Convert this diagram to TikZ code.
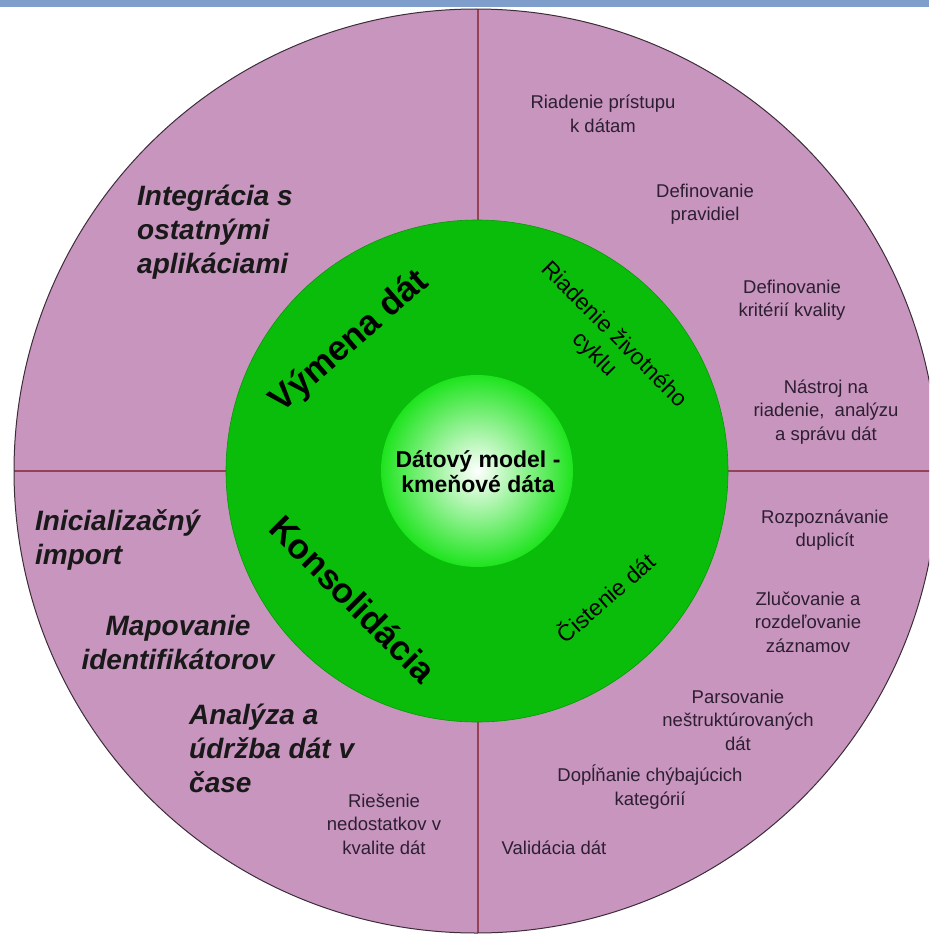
\documentclass[tikz,border=0pt]{standalone}
\usepackage{fontspec}
\setmainfont{Liberation Sans}
\usepackage{tikz}
\usetikzlibrary{positioning}
\definecolor{ringpink}{RGB}{199,149,190}
\definecolor{ringgreen}{RGB}{10,189,10}
\definecolor{coregreen}{RGB}{30,228,30}
\definecolor{linered}{RGB}{150,65,85}
\definecolor{topblue}{RGB}{128,158,204}
\definecolor{textdark}{RGB}{45,30,50}
\tikzset{outer label/.style={text=textdark,align=center,inner sep=0pt,font=\fontsize{18.5}{23.5}\selectfont},
	big label/.style={text=black!90,align=left,inner sep=0pt,font=\fontsize{28}{34}\selectfont\bfseries\itshape},
	ring label/.style={inner sep=0pt,font=\fontsize{35}{40}\selectfont\bfseries},
	cycle label/.style={align=center,inner sep=0pt,font=\fontsize{23}{28}\selectfont},}

\begin{document}
\begin{tikzpicture}[x=1pt, y=-1pt]
		\useasboundingbox (0,0) rectangle (929,934);
		\clip (0,0) rectangle (929,934);
		\fill[topblue] (0,0) rectangle (929,7);

		% rings
		\fill[ringpink] (476,471) circle (462);
		\draw[linered, line width=1.2pt] (478,9) -- (478,933);
		\draw[linered, line width=1.2pt] (14,471) -- (938,471);
		\draw[black!70!ringpink, line width=1pt] (476,471) circle (462);
		\fill[ringgreen, draw=ringgreen!80!black, line width=0.6pt] (477,471) circle (251);
		\shade[inner color=white, outer color=coregreen] (477,471) circle (96);

		\node[font=\fontsize{23}{25}\selectfont\bfseries, align=center, inner sep=0pt] (core) at (478,472) {Dátový model -\\kmeňové dáta};

		\node[ring label, rotate=41] (vymena) at (350,342) {Výmena dát};
		\node[ring label, rotate=-45] (konsol) at (353,599) {Konsolidácia};
		\node[cycle label, rotate=-45] (cyklus) at (604,345) {Riadenie životného\\cyklu};
		\node[cycle label, rotate=41] (cistenie) at (605,597) {Čistenie dát};

		% left side
		\node[big label, anchor=west] (integ) at (137,232) {Integrácia s\\ostatnými\\aplikáciami};
		\node[big label, anchor=west] (inic) at (35,540) {Inicializačný\\import};
		\node[big label, align=center] (mapov) at (178,642) {Mapovanie\\identifikátorov};
		\node[big label, anchor=west] (analyza) at (189,748) {Analýza a\\údržba dát v\\čase};
		\node[outer label] (riesenie) at (384,824) {Riešenie\\nedostatkov v\\kvalite dát};

		% right side
		\node[outer label] (pristup) at (603,114) {Riadenie prístupu\\k dátam};
		\node[outer label] (pravidla) at (705,204) {Definovanie\\pravidiel};
		\node[outer label] (kvalita) at (792,300) {Definovanie\\kritérií kvality};
		\node[outer label] (nastroj) at (826,412) {Nástroj na\\riadenie,\ \ analýzu\\a správu dát};
		\node[outer label] (duplicity) at (825,530) {Rozpoznávanie\\duplicít};
		\node[outer label] (zlucovanie) at (808,622) {Zlučovanie a\\rozdeľovanie\\záznamov};
		\node[outer label] (parsovanie) at (738,720) {Parsovanie\\neštruktúrovaných\\dát};
		\node[outer label] (doplnanie) at (650,787) {Dopĺňanie chýbajúcich\\kategórií};
		\node[outer label] (validacia) at (554,848) {Validácia dát};
	\end{tikzpicture}
\end{document}
